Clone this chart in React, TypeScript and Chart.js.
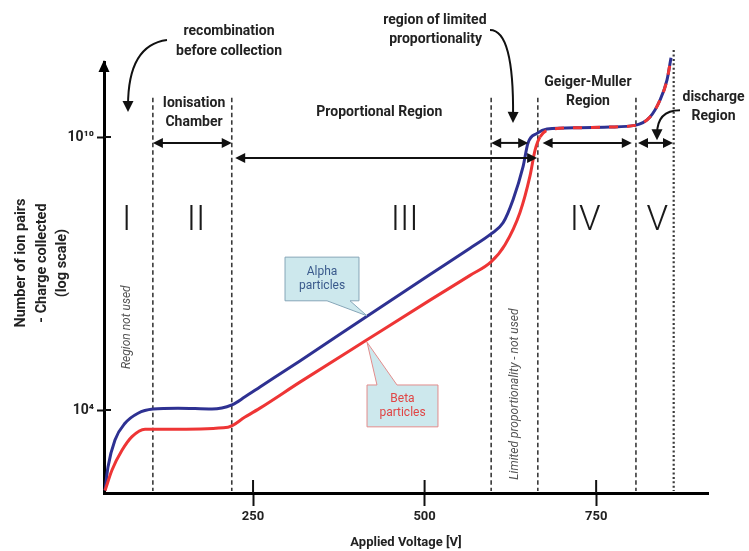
import React, { useEffect, useRef } from 'react';
import { Chart, registerables } from 'chart.js';

Chart.register(...registerables);

// ---------------- data ----------------
// Applied voltage [V] and number of ion pairs collected (log scale)
const alphaVoltage = [34.3, 38.6, 48.8, 63.4, 82.4, 104.2, 140.6, 190.2, 219.3, 238.3, 260.1, 318.3, 416.1, 507.9, 566.2, 596.8, 614.3, 628.9, 643.4, 650.7, 663.8, 678.4, 726.5, 770.2, 806.6, 828.5, 843.1, 853.3, 859.1];
const alphaIonPairs = [1.7e2, 5.6e2, 2.2e3, 5.1e3, 8.5e3, 1.05e4, 1.1e4, 1.05e4, 1.3e4, 1.95e4, 3.2e4, 1.2e5, 1.15e6, 9.5e6, 3.6e7, 7.4e7, 1.3e8, 4.2e8, 2.2e9, 7.4e9, 1.2e10, 1.5e10, 1.6e10, 1.66e10, 1.8e10, 2.75e10, 6.5e10, 1.8e11, 5.5e11];
const betaVoltage = [34.3, 44.5, 59.0, 73.6, 92.6, 140.6, 213.5, 238.3, 260.1, 318.3, 416.1, 507.9, 566.2, 596.8, 617.2, 639.0, 653.6, 660.9, 668.2, 687.1, 726.5, 770.2, 806.6, 828.5, 843.1, 853.3, 859.1];
const betaIonPairs = [1.7e2, 4.8e2, 1.3e3, 2.6e3, 3.8e3, 3.8e3, 4.2e3, 7.0e3, 1.1e4, 4.1e4, 3.5e5, 2.6e6, 9.1e6, 1.8e7, 4.3e7, 2.2e8, 1.4e9, 5.1e9, 1.0e10, 1.5e10, 1.6e10, 1.66e10, 1.8e10, 2.75e10, 6.5e10, 1.8e11, 5.5e11];

const xTickValues = [250, 500, 750];
const yTickValues = [1e4, 1e10];
const yTickLabels = ['10\u2074', '10\u00b9\u2070'];

const regionBoundaries = [104, 219, 597, 665, 808, 863];
const regionNumerals = ['I', 'II', 'III', 'IV', 'V'];
const numeralVoltages = [66, 167, 471, 734, 839];

const xAxisTitle = 'Applied Voltage [V]';
const yAxisTitle = ['Number of ion pairs', '- Charge collected', '(log scale)'];

// ---------------- annotation layout (data coordinates: volts, log10 exponent) ----------------
const textLabels = [
  { text: 'recombination', v: 215, e: 12.31 },
  { text: 'before collection', v: 215, e: 11.89 },
  { text: 'Ionisation', v: 164, e: 10.73 },
  { text: 'Chamber', v: 164, e: 10.31 },
  { text: 'Proportional Region', v: 434, e: 10.53 },
  { text: 'region of limited', v: 515, e: 12.57 },
  { text: 'proportionality', v: 516, e: 12.15 },
  { text: 'Geiger-Muller', v: 738, e: 11.19 },
  { text: 'Region', v: 738, e: 10.77 },
  { text: 'discharge', v: 921, e: 10.86 },
  { text: 'Region', v: 921, e: 10.44 },
];

const spanArrows = [
  { from: 104, to: 219, e: 9.87 },
  { from: 597, to: 651, e: 9.87 },
  { from: 672, to: 802, e: 9.87 },
  { from: 811, to: 862, e: 9.87 },
  { from: 224, to: 664, e: 9.54 },
];

const curvedArrows = [
  { start: [124.6, 12.13], ctrl: [67.8, 12.02], end: [67.8, 10.55] },
  { start: [595.3, 12.35], ctrl: [630.3, 12.35], end: [628.8, 10.31] },
  { start: [872.2, 10.59], ctrl: [838.7, 10.59], end: [838.7, 9.93] },
];

const rotatedNotes = [
  { text: 'Region not used', v: 66.3, e: 5.82 },
  { text: 'Limited proportionality - not used', v: 631.7, e: 4.35 },
];

const callouts = [
  { lines: ['Alpha', 'particles'], box: [296.6, 7.36, 404.4, 6.4], base: [357.8, 391.3], tip: [416.1, 6.07], side: 'bottom', textColor: '#3a5a8c', border: '#86a6b8' },
  { lines: ['Beta', 'particles'], box: [416.1, 4.55, 519.5, 3.63], base: [430.6, 459.8], tip: [416.1, 5.49], side: 'top', textColor: '#e04545', border: '#e28c8c' },
];

const FONT = 'Roboto, "Liberation Sans", sans-serif';

function drawHead(ctx: CanvasRenderingContext2D, tx: number, ty: number, ang: number, len = 10, half = 5) {
  const c = Math.cos(ang), s = Math.sin(ang);
  ctx.beginPath();
  ctx.moveTo(tx, ty);
  ctx.lineTo(tx - len * c + half * s, ty - len * s - half * c);
  ctx.lineTo(tx - len * c - half * s, ty - len * s + half * c);
  ctx.closePath();
  ctx.fill();
}

const annotationPlugin = {
  id: 'gmAnnotations',
  beforeDatasetsDraw(chart: any) {
    const { ctx, chartArea: ca } = chart;
    const xs = chart.scales.x, ys = chart.scales.y;
    ctx.save();
    ctx.strokeStyle = '#3a3a3a';
    regionBoundaries.forEach((v, i) => {
      const last = i === regionBoundaries.length - 1;
      ctx.lineWidth = last ? 2.2 : 1.6;
      ctx.setLineDash(last ? [2, 2.4] : [4.5, 3]);
      const px = xs.getPixelForValue(v);
      ctx.beginPath();
      ctx.moveTo(px, ys.getPixelForValue(Math.pow(10, last ? 11.91 : 10.86)));
      ctx.lineTo(px, ca.bottom - 2);
      ctx.stroke();
    });
    ctx.restore();
  },
  afterDatasetsDraw(chart: any) {
    const { ctx, chartArea: ca } = chart;
    const xs = chart.scales.x, ys = chart.scales.y;
    const X = (v: number) => xs.getPixelForValue(v);
    const Y = (e: number) => ys.getPixelForValue(Math.pow(10, e));
    ctx.save();
    ctx.setLineDash([]);

    // inner halves of tick marks
    ctx.strokeStyle = '#111';
    ctx.lineWidth = 2;
    xTickValues.forEach((v) => {
      const px = X(v);
      ctx.beginPath();
      ctx.moveTo(px, ca.bottom);
      ctx.lineTo(px, ca.bottom - 13);
      ctx.stroke();
    });
    yTickValues.forEach((v) => {
      const py = ys.getPixelForValue(v);
      ctx.beginPath();
      ctx.moveTo(ca.left, py);
      ctx.lineTo(ca.left + 7, py);
      ctx.stroke();
    });

    // y axis arrow head
    ctx.fillStyle = '#000';
    ctx.beginPath();
    ctx.moveTo(ca.left, ca.top - 2);
    ctx.lineTo(ca.left - 5.5, ca.top + 10);
    ctx.lineTo(ca.left + 5.5, ca.top + 10);
    ctx.closePath();
    ctx.fill();

    // region numerals
    ctx.fillStyle = '#1a1a1a';
    ctx.font = `300 35px ${FONT}`;
    ctx.textAlign = 'center';
    ctx.textBaseline = 'alphabetic';
    regionNumerals.forEach((n, i) => ctx.fillText(n, X(numeralVoltages[i]), Y(7.96)));

    // text labels
    ctx.font = `bold 14px ${FONT}`;
    ctx.textBaseline = 'middle';
    ctx.fillStyle = '#222';
    textLabels.forEach((t) => ctx.fillText(t.text, X(t.v), Y(t.e)));

    // span arrows
    ctx.strokeStyle = '#111';
    ctx.fillStyle = '#111';
    ctx.lineWidth = 2;
    spanArrows.forEach((a) => {
      const x1 = X(a.from), x2 = X(a.to), y = Y(a.e);
      ctx.beginPath();
      ctx.moveTo(x1 + 6, y);
      ctx.lineTo(x2 - 6, y);
      ctx.stroke();
      drawHead(ctx, x2, y, 0);
      drawHead(ctx, x1, y, Math.PI);
    });

    // curved arrows
    curvedArrows.forEach((a) => {
      const sx = X(a.start[0]), sy = Y(a.start[1]);
      const cx = X(a.ctrl[0]), cy = Y(a.ctrl[1]);
      const ex = X(a.end[0]), ey = Y(a.end[1]);
      const ang = Math.atan2(ey - cy, ex - cx);
      ctx.beginPath();
      ctx.moveTo(sx, sy);
      ctx.quadraticCurveTo(cx, cy, ex - 6 * Math.cos(ang), ey - 6 * Math.sin(ang));
      ctx.stroke();
      drawHead(ctx, ex, ey, ang, 11, 5.5);
    });

    // callouts
    callouts.forEach((c) => {
      const l = X(c.box[0]), t = Y(c.box[1]), r = X(c.box[2]), b = Y(c.box[3]);
      const b1 = X(c.base[0]), b2 = X(c.base[1]);
      const tx = X(c.tip[0]), ty = Y(c.tip[1]);
      ctx.beginPath();
      if (c.side === 'bottom') {
        ctx.moveTo(l, t); ctx.lineTo(r, t); ctx.lineTo(r, b); ctx.lineTo(b2, b);
        ctx.lineTo(tx, ty); ctx.lineTo(b1, b); ctx.lineTo(l, b);
      } else {
        ctx.moveTo(l, t); ctx.lineTo(b1, t); ctx.lineTo(tx, ty); ctx.lineTo(b2, t);
        ctx.lineTo(r, t); ctx.lineTo(r, b); ctx.lineTo(l, b);
      }
      ctx.closePath();
      ctx.fillStyle = '#cde8ed';
      ctx.fill();
      ctx.strokeStyle = c.border;
      ctx.lineWidth = 1;
      ctx.stroke();
      ctx.fillStyle = c.textColor;
      ctx.font = `12px ${FONT}`;
      const mx = (l + r) / 2, my = (t + b) / 2;
      ctx.fillText(c.lines[0], mx, my - 7);
      ctx.fillText(c.lines[1], mx, my + 7);
    });

    // rotated italic notes
    ctx.fillStyle = '#555';
    ctx.font = `italic 12px ${FONT}`;
    rotatedNotes.forEach((n) => {
      ctx.save();
      ctx.translate(X(n.v), Y(n.e));
      ctx.rotate(-Math.PI / 2);
      ctx.fillText(n.text, 0, 0);
      ctx.restore();
    });

    // y axis title
    ctx.fillStyle = '#222';
    ctx.font = `bold 14.5px ${FONT}`;
    const offsets = [-83, -62, -42];
    yAxisTitle.forEach((line, i) => {
      ctx.save();
      ctx.translate(ca.left + offsets[i], Y(7.23));
      ctx.rotate(-Math.PI / 2);
      ctx.fillText(line, 0, 0);
      ctx.restore();
    });

    ctx.restore();
  },
};

export default function App() {
  const ref = useRef<HTMLCanvasElement>(null);
  useEffect(() => {
    const canvas = ref.current;
    if (!canvas) return;
    const chart = new Chart(canvas, {
      type: 'line',
      data: {
        datasets: [
          {
            label: 'Beta particles',
            data: betaVoltage.map((v, i) => ({ x: v, y: betaIonPairs[i] })),
            borderColor: '#ee3535',
            borderWidth: 3,
            pointRadius: 0,
            cubicInterpolationMode: 'monotone',
            clip: false,
            order: 0,
            segment: {
              borderDash: (c: any) => (c.p0.parsed.x >= 668 ? [9, 9] : undefined),
            },
          } as any,
          {
            label: 'Alpha particles',
            data: alphaVoltage.map((v, i) => ({ x: v, y: alphaIonPairs[i] })),
            borderColor: '#2e3192',
            borderWidth: 3,
            pointRadius: 0,
            cubicInterpolationMode: 'monotone',
            clip: false,
            order: 1,
          } as any,
        ],
      },
      options: {
        responsive: false,
        animation: false,
        events: [],
        devicePixelRatio: 1,
        layout: { padding: { top: 62, right: 41, left: 0, bottom: 0 } },
        plugins: { legend: { display: false }, tooltip: { enabled: false } },
        scales: {
          x: {
            type: 'linear',
            min: 32.8,
            max: 913,
            afterFit: (s: any) => { s.height = 58; },
            afterBuildTicks: (s: any) => { s.ticks = xTickValues.map((v) => ({ value: v })); },
            ticks: {
              callback: (v: any) => String(v),
              color: '#222',
              padding: 3,
              font: { family: FONT, size: 13, weight: 'bold' },
            },
            grid: { drawOnChartArea: false, drawTicks: true, tickLength: 13, tickColor: '#111', tickWidth: 2 },
            border: { display: true, color: '#000', width: 3 },
            title: {
              display: true,
              text: xAxisTitle,
              color: '#222',
              padding: 0,
              font: { family: FONT, size: 13, weight: 'bold' },
            },
          },
          y: {
            type: 'logarithmic',
            min: 150,
            max: 4.45e11,
            afterFit: (s: any) => { s.width = 104; },
            afterBuildTicks: (s: any) => { s.ticks = yTickValues.map((v) => ({ value: v })); },
            ticks: {
              callback: (v: any) => {
                const i = yTickValues.indexOf(v);
                return i >= 0 ? yTickLabels[i] : '';
              },
              color: '#222',
              padding: 3,
              font: { family: FONT, size: 14, weight: 'bold' },
            },
            grid: { drawOnChartArea: false, drawTicks: true, tickLength: 7, tickColor: '#111', tickWidth: 2 },
            border: { display: true, color: '#000', width: 3 },
          },
        },
      } as any,
      plugins: [annotationPlugin],
    });
    return () => chart.destroy();
  }, []);
  return (
    <div style={{ position: 'absolute', left: 0, top: 0, width: 749, height: 551, background: '#fff' }}>
      <canvas ref={ref} width={749} height={551} style={{ display: 'block', width: 749, height: 551 }} />
    </div>
  );
}
